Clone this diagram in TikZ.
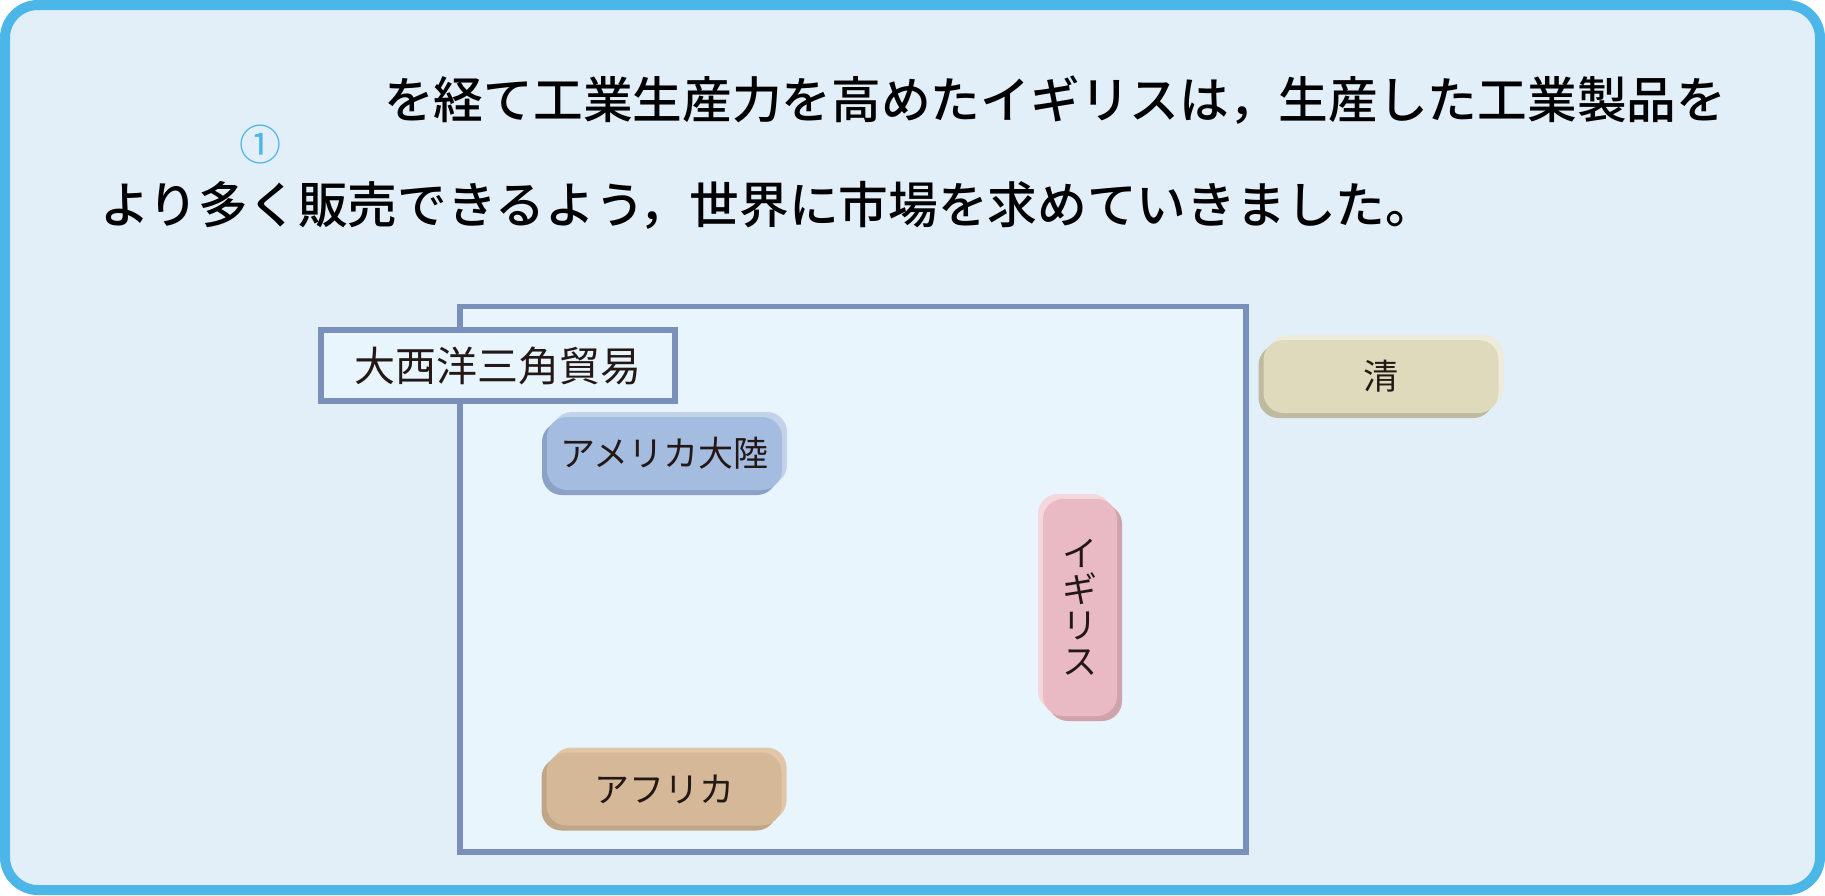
\documentclass[tikz,border=0pt]{standalone}
\usepackage{fontspec}
\newfontfamily\jp{Noto Sans CJK JP}
\newfontfamily\jpmid{Noto Sans CJK JP Medium}
\usetikzlibrary{positioning}

\definecolor{frameblue}{HTML}{4BB6E7}
\definecolor{panel}{HTML}{E2EFF9}
\definecolor{boxfill}{HTML}{E9F5FD}
\definecolor{boxline}{HTML}{7890BA}
\definecolor{ink}{HTML}{231815}
\definecolor{amface}{HTML}{A4BCE0}
\definecolor{amlight}{HTML}{C3D2EB}
\definecolor{amdark}{HTML}{8BA2C6}
\definecolor{qface}{HTML}{DFDABC}
\definecolor{qlight}{HTML}{EEEBDB}
\definecolor{qdark}{HTML}{BEBAA0}
\definecolor{ukface}{HTML}{E9BAC3}
\definecolor{uklight}{HTML}{F3D7DD}
\definecolor{ukdark}{HTML}{CFA3AB}
\definecolor{afface}{HTML}{D4B898}
\definecolor{aflight}{HTML}{E1C7A7}
\definecolor{afdark}{HTML}{C1A587}

\tikzset{
  maintext/.style={anchor=west, inner sep=0pt, text=black, font=\jpmid\fontsize{49.7}{60}\selectfont},
  % #1 face, #2 light edge, #3 dark edge, #4 +1 light to the right, -1 light to the left
  tile/.style n args={4}{rounded corners=20pt, inner sep=0pt, fill=#1, text=ink,
    font=\jp\fontsize{35}{36}\selectfont, align=center,
    preaction={fill=#2, transform canvas={xshift={(#4)*5pt}, yshift=5pt}},
    preaction={fill=#3, transform canvas={xshift={0pt-(#4)*5pt}, yshift=-5pt}}},
  landw/.style={minimum width=235pt, minimum height=73pt},
}

\begin{document}
\begin{tikzpicture}[line cap=round,line join=round,x=1pt,y=-1pt]
\useasboundingbox (0,0) rectangle (1825,895);
\draw[frameblue, line width=10pt, fill=panel, rounded corners=33pt] (5,5) rectangle (1820,890);

\node[maintext] (line1) at (384,100) {を経て工業生産力を高めたイギリスは，生産した工業製品を};
\node[maintext] (line2) at (100,205) {より多く販売できるよう，世界に市場を求めていきました。};
\node[inner sep=0pt, text=frameblue, font=\jp\fontsize{42}{42}\selectfont] (blank1) at (260,145) {①};

\draw[boxline, line width=5.5pt, line cap=butt, line join=miter, fill=boxfill] (460,306.5) rectangle (1246,852);
\node[draw=boxline, line width=6pt, line join=miter, fill=boxfill, inner sep=0pt, minimum width=354pt, minimum height=71pt,
  text=ink, font=\jp\fontsize{41}{41}\selectfont] (trade) at (498,365.5) {大西洋三角貿易};

\node[tile={amface}{amlight}{amdark}{1}, landw] (america) at (664.5,453.5) {アメリカ大陸};
\node[tile={afface}{aflight}{afdark}{1}, landw] (africa) at (664,789) {アフリカ};
\node[tile={qface}{qlight}{qdark}{1}, landw] (qing) at (1381,376.5) {清};
\node[tile={ukface}{uklight}{ukdark}{-1}, minimum width=74pt, minimum height=217pt] (britain) at (1080,607.5) {イ\\ギ\\リ\\ス};
\end{tikzpicture}
\end{document}
